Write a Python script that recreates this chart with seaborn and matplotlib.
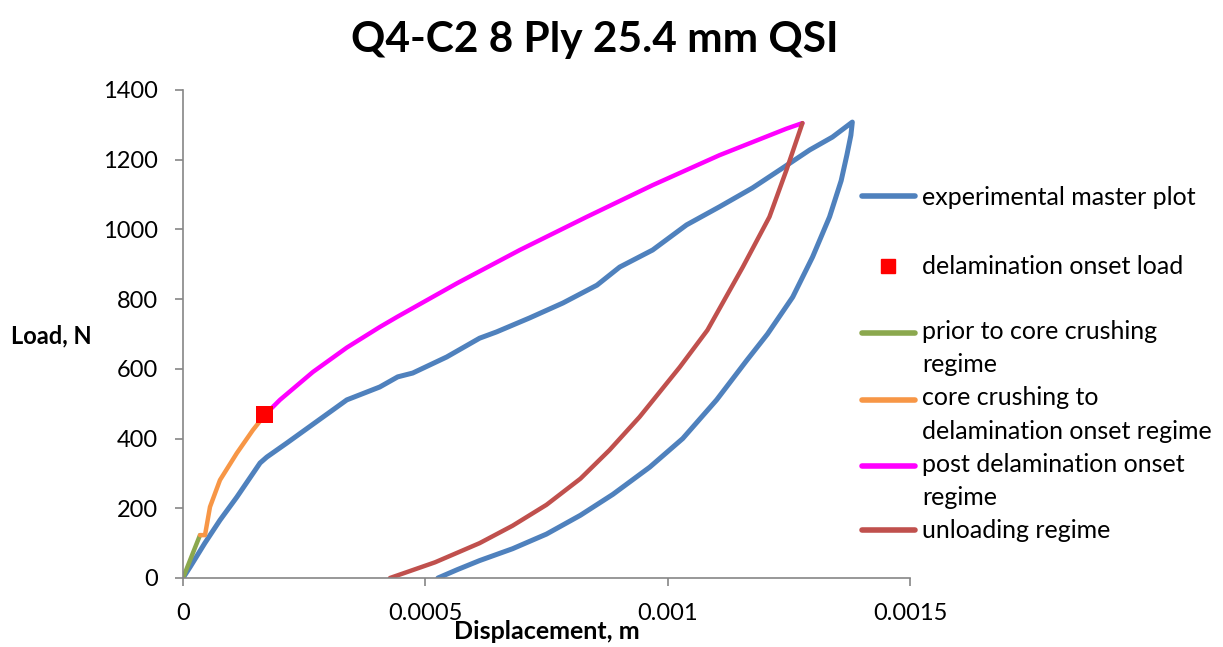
import numpy as np
import pandas as pd
import seaborn as sns
import matplotlib
matplotlib.use("Agg")
import matplotlib.pyplot as plt
from matplotlib.lines import Line2D
from matplotlib.legend_handler import HandlerLine2D

# experimental master plot (loading then unloading), displacement in m, load in N
exp_x = [0, 0.0000144, 0.000045, 0.0000763, 0.000111, 0.000135, 0.000159, 0.000173,
         0.000214, 0.000279, 0.000338, 0.000406, 0.000443, 0.000474, 0.000544,
         0.000612, 0.000647, 0.000715, 0.000784, 0.000854, 0.000901, 0.000969,
         0.001039, 0.001107, 0.001175, 0.001237, 0.001293, 0.001340, 0.001381,
         0.001378, 0.001370, 0.001358, 0.001334, 0.001299, 0.001258, 0.001206,
         0.001163, 0.001101, 0.001031, 0.000963, 0.000887, 0.00082, 0.00075,
         0.00068, 0.000612, 0.000566, 0.000526]
exp_y = [0, 31, 100, 166, 232, 281, 330, 347,
         387, 452, 511, 548, 577, 588, 634,
         688, 706, 746, 789, 840, 892, 941,
         1013, 1065, 1119, 1176, 1228, 1265, 1308,
         1270, 1215, 1140, 1036, 921, 806, 700,
         624, 511, 400, 318, 240, 180, 126,
         84, 50, 24, 0]

# delamination onset load
onset_x = [0.000169]
onset_y = [468]

# prior to core crushing regime
prior_x = [0, 0.0000351]
prior_y = [0, 123]

# core crushing to delamination onset regime
core_x = [0.0000351, 0.0000454, 0.0000557, 0.0000763, 0.000111, 0.000144, 0.000169]
core_y = [123, 123, 204, 281, 358, 424, 468]

# post delamination onset regime
post_x = [0.000169, 0.0002, 0.000268, 0.000338, 0.000406, 0.000443, 0.000566,
          0.000695, 0.000833, 0.000969, 0.001107, 0.001245, 0.001278]
post_y = [468, 511, 591, 661, 720, 750, 846,
          941, 1036, 1127, 1213, 1289, 1305]

# unloading regime
unload_x = [0.001278, 0.001245, 0.00121, 0.001155, 0.001082, 0.001025, 0.000942,
            0.00088, 0.00082, 0.00075, 0.00068, 0.000612, 0.000520, 0.000427]
unload_y = [1305, 1170, 1036, 892, 711, 605, 462,
            367, 285, 210, 150, 100, 45, 0]

c_exp = "#4F81BD"
c_prior = "#8BA84E"
c_core = "#F79646"
c_post = "#FF00FF"
c_unload = "#C0504D"


class HandlerFirstLine(HandlerLine2D):
    """Excel puts the legend line level with the first line of a wrapped label."""
    def __init__(self, dy=0, **kw):
        super().__init__(**kw)
        self.dy = dy

    def create_artists(self, legend, orig_handle, xdescent, ydescent, width,
                       height, fontsize, trans):
        artists = super().create_artists(legend, orig_handle, xdescent, ydescent,
                                         width, height, fontsize, trans)
        for a in artists:
            a.set_ydata(np.asarray(a.get_ydata()) + self.dy)
        return artists


sns.set_style("white")
plt.rcParams["font.family"] = ["Lato", "DejaVu Sans"]
plt.rcParams["text.color"] = "black"
plt.rcParams["axes.labelcolor"] = "black"
plt.rcParams["xtick.color"] = "black"
plt.rcParams["ytick.color"] = "black"

fig = plt.figure(figsize=(12.23, 6.47), dpi=100)
ax = fig.add_axes([183 / 1223, 1 - 578 / 647, 727 / 1223, 488 / 647])

lw = 3.2
sns.lineplot(x=exp_x, y=exp_y, sort=False, estimator=None, color=c_exp, lw=3.6, ax=ax)
sns.lineplot(x=prior_x, y=prior_y, sort=False, estimator=None, color=c_prior, lw=lw, ax=ax)
sns.lineplot(x=core_x, y=core_y, sort=False, estimator=None, color=c_core, lw=lw, ax=ax)
sns.lineplot(x=post_x, y=post_y, sort=False, estimator=None, color=c_post, lw=lw, ax=ax)
sns.lineplot(x=unload_x, y=unload_y, sort=False, estimator=None, color=c_unload, lw=lw, ax=ax)
sns.scatterplot(x=onset_x, y=onset_y, marker="s", s=150, color="#FF0000",
                edgecolor="none", zorder=5, ax=ax)

for line in ax.lines:
    line.set_solid_capstyle("round")
    line.set_solid_joinstyle("round")

ax.set_xlim(0, 0.0015)
ax.set_ylim(0, 1400)
ax.set_xticks([0, 0.0005, 0.001, 0.0015])
ax.set_xticklabels(["0", "0.0005", "0.001", "0.0015"])
ax.set_yticks(range(0, 1401, 200))

sns.despine(ax=ax)
for s in ["left", "bottom"]:
    ax.spines[s].set_color("#868686")
    ax.spines[s].set_linewidth(1.2)
ax.tick_params(axis="both", which="major", labelsize=17, length=6, width=1.2,
               color="#868686", labelcolor="black", pad=12, direction="out",
               left=True, bottom=True)

ax.set_xlabel("Displacement, m", fontsize=18, fontweight="bold", labelpad=-3)
ax.set_ylabel("Load, N", fontsize=17, fontweight="bold", rotation=0,
              ha="right", va="center")
ax.yaxis.set_label_coords(-0.125, 0.496)

fig.text(0.486, 0.938, "Q4-C2 8 Ply 25.4 mm QSI", fontsize=30.5,
         fontweight="bold", ha="center", va="center")

# legend, split in two to keep the Excel-like spacing
h1 = [Line2D([], [], color=c_exp, lw=4, solid_capstyle="round"),
      Line2D([], [], color="#FF0000", marker="s", ls="none", markersize=10)]
l1 = ["experimental master plot", "delamination onset load"]
h2 = [Line2D([], [], color=c_prior, lw=4, solid_capstyle="round"),
      Line2D([], [], color=c_core, lw=4, solid_capstyle="round"),
      Line2D([], [], color=c_post, lw=4, solid_capstyle="round"),
      Line2D([], [], color=c_unload, lw=4, solid_capstyle="round")]
l2 = ["prior to core crushing\nregime", "core crushing to\ndelamination onset regime",
      "post delamination onset\nregime", "unloading regime"]

wrapped = HandlerFirstLine(dy=11.2)
hmap = {h2[0]: wrapped, h2[1]: wrapped, h2[2]: wrapped}

leg_kw = dict(frameon=False, fontsize=18, handlelength=2.1, handletextpad=0.3,
              borderpad=0, borderaxespad=0, loc="upper left")
fig.legend(h1, l1, bbox_to_anchor=(862 / 1223, 1 - 186 / 647),
           labelspacing=1.85, **leg_kw)
leg2 = fig.legend(h2, l2, bbox_to_anchor=(862 / 1223, 1 - 320 / 647),
                  labelspacing=0.4, handler_map=hmap, **leg_kw)
for t in leg2.get_texts():
    t.set_linespacing(1.55)

fig.savefig("out.png", dpi=100)
